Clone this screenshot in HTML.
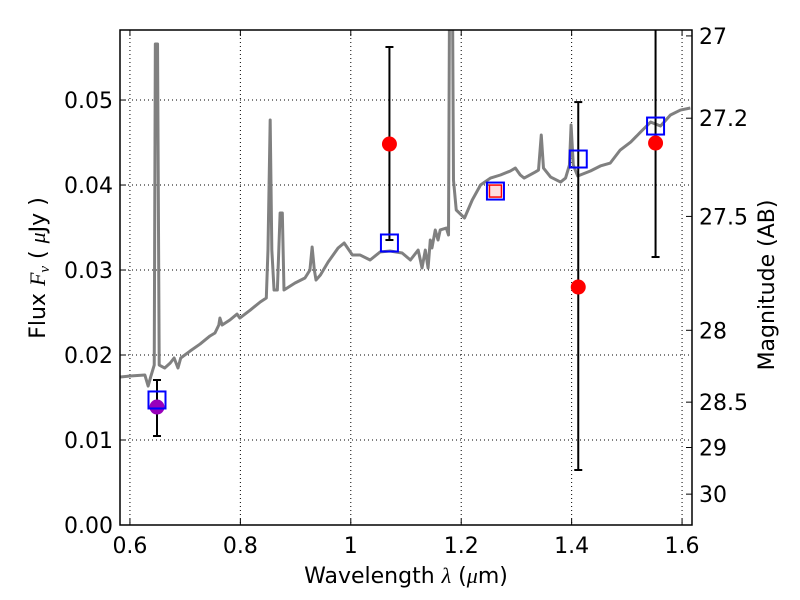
<!DOCTYPE html>
<html><head><meta charset="utf-8"><style>
body{margin:0;background:#fff;}
svg{display:block;font-family:"DejaVu Sans","Liberation Sans",sans-serif;}
</style></head><body>
<svg id="chart" width="800" height="600"></svg>
<script>
const xTicks=[0.6,0.8,1.0,1.2,1.4,1.6];
const xTickLabels=["0.6","0.8","1","1.2","1.4","1.6"];
const yTicks=[0,0.01,0.02,0.03,0.04,0.05];
const yTickLabels=["0.00","0.01","0.02","0.03","0.04","0.05"];
const magTicks=[27,27.2,27.5,28,28.5,29,30];
const magTickLabels=["27","27.2","27.5","28","28.5","29","30"];
const specWave=[0.582,0.600,0.627,0.633,0.638,0.644,0.646,0.650,0.653,0.663,0.673,0.680,0.687,0.692,0.709,0.727,0.745,0.754,0.761,0.763,0.767,0.781,0.794,0.799,0.818,0.836,0.847,0.850,0.854,0.857,0.861,0.867,0.872,0.876,0.879,0.899,0.917,0.926,0.930,0.934,0.937,0.945,0.959,0.977,0.988,1.003,1.017,1.035,1.053,1.071,1.093,1.108,1.122,1.126,1.129,1.135,1.140,1.144,1.147,1.153,1.158,1.162,1.173,1.177,1.179,1.184,1.186,1.191,1.206,1.220,1.235,1.253,1.271,1.289,1.298,1.307,1.314,1.334,1.340,1.345,1.349,1.362,1.380,1.389,1.396,1.399,1.403,1.411,1.434,1.452,1.470,1.488,1.507,1.525,1.543,1.561,1.579,1.597,1.615];
const specFlux=[0.01741,0.01753,0.01765,0.01635,0.01753,0.01882,0.0566,0.0566,0.01882,0.01847,0.01906,0.01965,0.01847,0.01965,0.02047,0.02129,0.02224,0.02259,0.02353,0.02435,0.02353,0.02412,0.02482,0.02435,0.02529,0.02624,0.02671,0.03235,0.04765,0.03235,0.02765,0.02765,0.03671,0.03671,0.02765,0.02847,0.02906,0.0300,0.03271,0.0300,0.02882,0.02941,0.03094,0.03259,0.03318,0.03176,0.03176,0.03118,0.03212,0.03224,0.0320,0.03118,0.03235,0.03118,0.03024,0.03235,0.03024,0.03353,0.03259,0.03471,0.03353,0.03471,0.03494,0.03412,0.065,0.065,0.04059,0.03706,0.03612,0.03824,0.0400,0.04082,0.04118,0.04165,0.0420,0.04118,0.04082,0.04153,0.04176,0.04588,0.0420,0.04094,0.04035,0.04082,0.04235,0.04706,0.04235,0.04106,0.04165,0.04224,0.04259,0.04412,0.04506,0.04624,0.04741,0.04694,0.04824,0.04882,0.04906];
const obsWave=[0.649,1.070,1.412,1.552];
const obsFlux=[0.01388,0.04482,0.0280,0.04494];
const obsLow=[0.01047,0.03353,0.00647,0.03153];
const obsHigh=[0.01706,0.05624,0.04976,0.0620];
const obsColors=["#9900bb","#ff0000","#ff0000","#ff0000"];
const modelWave=[0.649,1.070,1.262,1.412,1.552];
const modelFlux=[0.01471,0.03318,0.03929,0.04306,0.04694];
const extraWave=[1.262];
const extraFlux=[0.03929];

const L=120,R=692,T=30,B=525;
const xMin=0.582,xMax=1.618,yMin=0,yMax=0.05824;
const sx=v=>L+(v-xMin)/(xMax-xMin)*(R-L);
const sy=v=>B-(v-yMin)/(yMax-yMin)*(B-T);
const magToY=m=>sy(Math.pow(10,(23.9-m)/2.5));
const svg=document.getElementById('chart');
const NS='http://www.w3.org/2000/svg';
function mk(tag,attrs,parent){const e=document.createElementNS(NS,tag);for(const k in attrs)e.setAttribute(k,attrs[k]);(parent||svg).appendChild(e);return e;}

const defs=mk('defs',{});const cp=mk('clipPath',{id:'clip'},defs);mk('rect',{x:L,y:T,width:R-L,height:B-T},cp);

xTicks.forEach((t,i)=>{const x=sx(t);
 const g=mk('line',{x1:x,x2:x,y1:T,y2:B,stroke:'#000','stroke-dasharray':'1,3','stroke-width':1});
 
 mk('line',{x1:x,x2:x,y1:B,y2:B-6,stroke:'#000'});mk('line',{x1:x,x2:x,y1:T,y2:T+6,stroke:'#000'});
 const tx=mk('text',{x:x,y:B+28,'text-anchor':'middle','font-size':22});tx.textContent=xTickLabels[i];
 });
yTicks.forEach((t,i)=>{const y=sy(t);
 const g=mk('line',{x1:L,x2:R,y1:y,y2:y,stroke:'#000','stroke-dasharray':'1,3','stroke-width':1});
 
 mk('line',{x1:L,x2:L+6,y1:y,y2:y,stroke:'#000'});
 const tx=mk('text',{x:L-7,y:y+8,'text-anchor':'end','font-size':22});tx.textContent=yTickLabels[i];
 });
magTicks.forEach((m,i)=>{const y=magToY(m);
 mk('line',{x1:R,x2:R-6,y1:y,y2:y,stroke:'#000'});
 const tx=mk('text',{x:R+7,y:y+8,'font-size':22});tx.textContent=magTickLabels[i];
 });

const pg=mk('g',{'clip-path':'url(#clip)'});
const sp=mk('polyline',{points:specWave.map((w,i)=>sx(w)+','+sy(specFlux[i])).join(' '),fill:'none',stroke:'#808080','stroke-width':3,'stroke-linejoin':'round'},pg);


obsWave.forEach((w,i)=>{const x=sx(w);
 const e=mk('line',{x1:x,x2:x,y1:sy(obsHigh[i]),y2:sy(obsLow[i]),stroke:'#000','stroke-width':2},pg);
 
 mk('line',{x1:x-4,x2:x+4,y1:sy(obsHigh[i]),y2:sy(obsHigh[i]),stroke:'#000','stroke-width':2},pg);
 mk('line',{x1:x-4,x2:x+4,y1:sy(obsLow[i]),y2:sy(obsLow[i]),stroke:'#000','stroke-width':2},pg);});
obsWave.forEach((w,i)=>{
 const c=mk('circle',{cx:sx(w),cy:sy(obsFlux[i]),r:7.5,fill:obsColors[i]},pg);
 });
extraWave.forEach((w,i)=>{
 const r=mk('rect',{x:sx(w)-6,y:sy(extraFlux[i])-6,width:12,height:12,fill:'#ffdddd',stroke:'#ff0000','stroke-width':1.5},pg);
 });
modelWave.forEach((w,i)=>{
 const r=mk('rect',{x:sx(w)-8.5,y:sy(modelFlux[i])-8.5,width:17,height:17,fill:'none',stroke:'#0000ff','stroke-width':2},pg);
 });

const fr=mk('rect',{x:L,y:T,width:R-L,height:B-T,fill:'none',stroke:'#000','stroke-width':1.5});


const xl=mk('text',{x:406,y:583,'text-anchor':'middle','font-size':22});
xl.innerHTML='Wavelength  <tspan font-family="Liberation Serif" font-style="italic">λ</tspan> (<tspan font-family="Liberation Serif" font-style="italic">μ</tspan>m)';

const yl=mk('text',{x:0,y:0,'text-anchor':'middle','font-size':22,transform:'translate(45,268) rotate(-90)'});
yl.innerHTML='Flux  <tspan font-family="Liberation Serif" font-style="italic">F</tspan><tspan font-family="Liberation Serif" font-style="italic" font-size="15" dy="4">ν</tspan><tspan dy="-4">  (  </tspan><tspan font-family="Liberation Serif" font-style="italic">μ</tspan>Jy )';

const ml=mk('text',{x:0,y:0,'text-anchor':'middle','font-size':22,transform:'translate(774,285) rotate(-90)'});
ml.textContent='Magnitude (AB)';

</script>
</body></html>
